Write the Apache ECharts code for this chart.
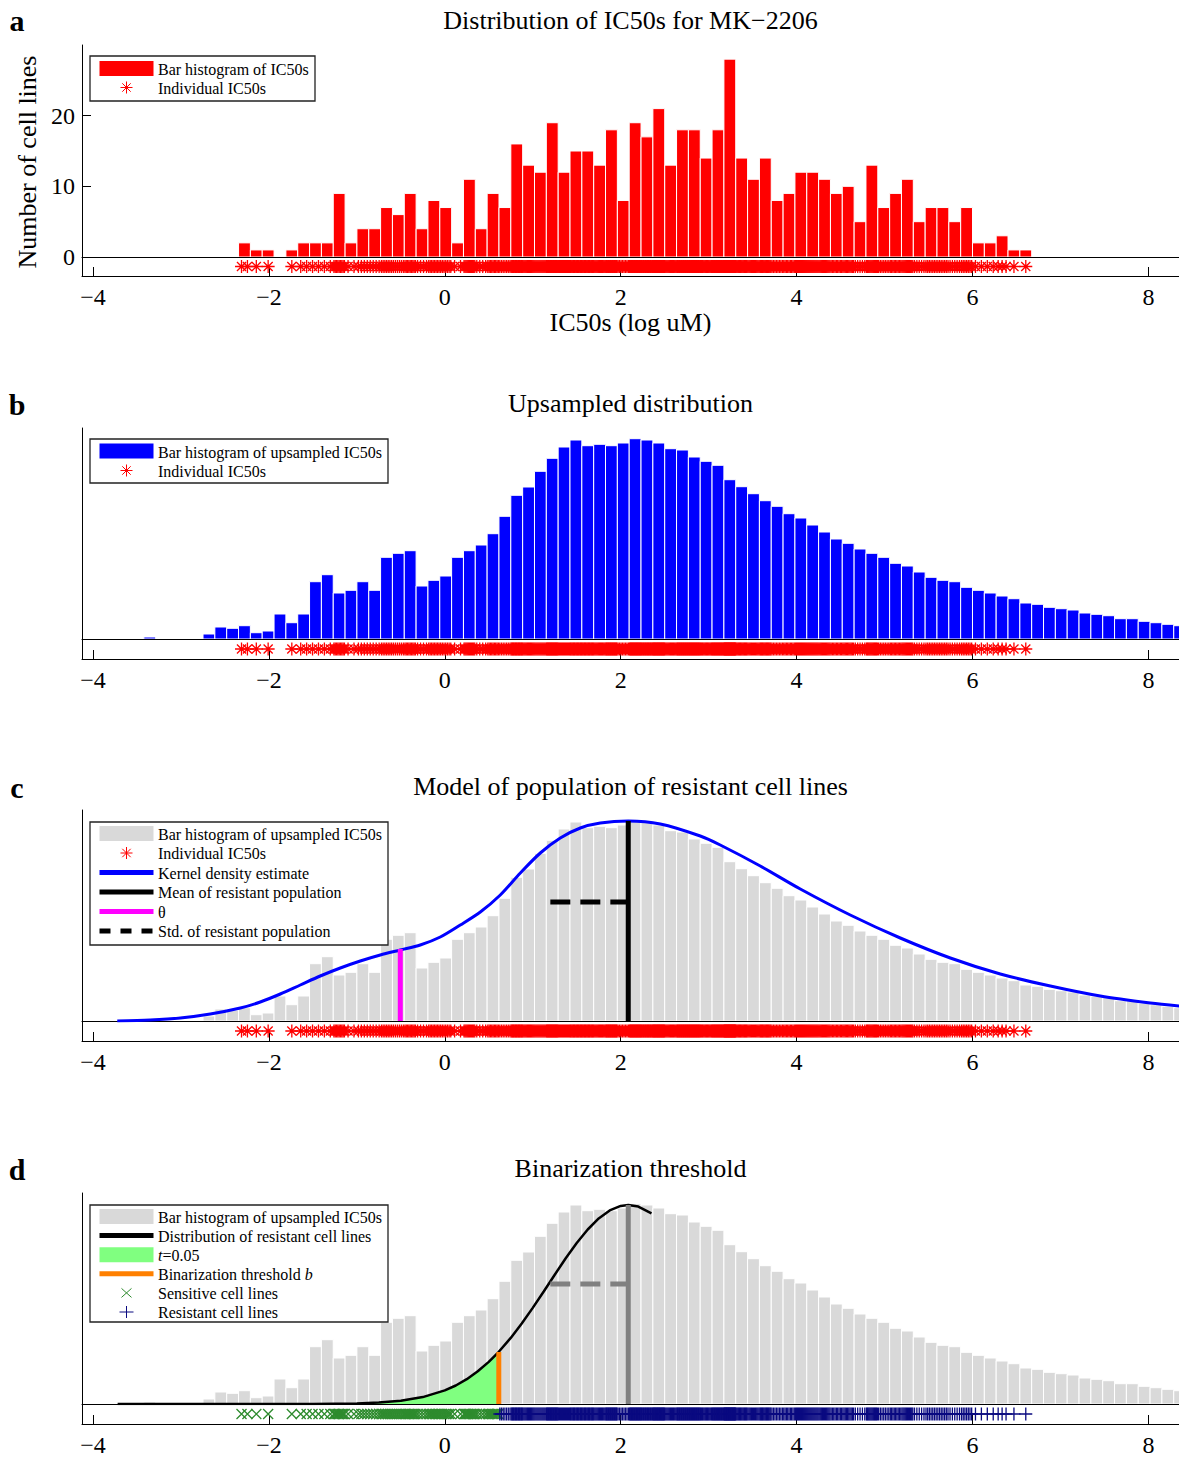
<!DOCTYPE html>
<html><head><meta charset="utf-8">
<script src="https://cdn.jsdelivr.net/npm/echarts@6/dist/echarts.min.js"></script>
<style>html,body{margin:0;padding:0;background:#fff}#c{width:1179px;height:1458px}</style>
</head><body><div id="c"></div>
<script>
// ================= DATA =================
const titles = ['Distribution of IC50s for MK\u22122206', 'Upsampled distribution',
  'Model of population of resistant cell lines', 'Binarization threshold'];
const panelLetters = ['a', 'b', 'c', 'd'];
const xTickValues = [-4, -2, 0, 2, 4, 6, 8];
const aYTickValues = [0, 10, 20];

// histogram bins (log uM)
const binWidth = 0.1346;
const aBinStart = -2.345;
const aCounts = [2,1,1,0,1,2,2,2,9,2,4,4,7,6,9,4,8,7,2,11,4,9,7,16,13,12,19,12,
  15,15,13,18,8,19,17,21,13,18,18,14,18,28,14,11,14,8,9,12,12,11,9,10,5,13,7,9,11,5,7,7,5,7,2,2,3,1,1];

// upsampled histogram (relative counts)
const upBinStart = -3.422;
const upCounts = [2,0,0,0,0,5,12,10.7,13.3,6.3,8,25,16.3,25,57.3,64.3,46,48.7,57.3,48.7,81.7,85.7,88.3,53,58.7,63,
  81.7,88.3,94,105.3,122.7,143.7,152,167.7,180.7,192,199,193.3,194.7,193.3,196,200.3,199,196,190.3,189,182,177.7,
  173.7,159.3,152.3,145.3,138.3,132.7,125.3,121,114,107,100,95.7,90,85.7,81.7,75.7,73,67,61.7,58.7,57.3,51.7,48.7,
  46,43,40.3,36,34.7,31.7,30.3,29,26,24.7,23.3,20.3,20.3,17.7,16.3,14.7,13.3];

// kernel density estimate (panel c)
const kdeX = [-3.724,-3.349,-3.007,-2.666,-2.325,-2.098,-1.870,-1.643,-1.416,-1.188,-0.961,-0.733,-0.506,-0.279,-0.051,
  0.176,0.404,0.631,0.859,1.086,1.313,1.541,1.768,2.086,2.450,2.905,3.132,3.587,4.042,4.610,5.179,5.748,6.316,6.885,7.453,8.022,8.352];
const kdeY = [0,1,3,7,13,19,27,36,45,53,60,66,71,76,84,96,109,126,148,168,183,193,198,200,197,185,176,155,132,106,83,63,47,35,25,18,15];

const resistMean = 2.086;
const resistMeanMinusStd = 1.2;
const cMeanHeight = 200, cStdHeight = 119;
const thetaValue = -0.506, thetaHeight = 72;

// distribution of resistant cell lines (panel d)
const resX = [-3.72,-3.0,-2.5,-2.0,-1.5,-1.0,-0.75,-0.5,-0.25,0,0.125,0.25,0.375,0.5,0.614,0.75,0.875,1.0,1.125,
  1.25,1.375,1.5,1.625,1.75,1.875,2.0,2.086,2.2,2.35];
const resY = [0,0,0,0,0.1,0.6,1.4,3.2,6.9,13.6,18.5,24.8,32.7,42.1,52.2,66.1,80.5,96.1,112.5,
  129.3,145.7,161,174.5,185.6,193.6,198.1,199,197.4,190.6];
const thresholdB = 0.614;
const thresholdHeight = 52;
const dMeanHeight = 199, dStdHeight = 120;

// individual IC50s placed inside their histogram bins
function binPoints(start, w, counts) {
  const pts = [];
  counts.forEach((n, i) => { for (let k = 0; k < n; k++) pts.push(start + w * (i + (k + 0.5) / n)); });
  return pts;
}
const individualIC50 = binPoints(aBinStart, binWidth, aCounts);

// ================= LAYOUT / STYLE =================
const FONT = "'Liberation Serif','Times New Roman',serif";
const XMIN = -4.125, XMAX = 8.348;
const PANELS = [
  {top: 45, base: 257, bottom: 276, titleY: 20, letterY: 20},
  {top: 428, base: 639, bottom: 659, titleY: 403, letterY: 404},
  {top: 810, base: 1021, bottom: 1041, titleY: 786, letterY: 787},
  {top: 1193, base: 1404, bottom: 1424, titleY: 1168, letterY: 1169}
];
const STAR = 'path://M6,0L6,12M0,6L12,6M1.8,1.8L10.2,10.2M1.8,10.2L10.2,1.8';
const XMARK = 'path://M0,0L10,10M0,10L10,0';
const PLUS = 'path://M7,0L7,12M0,6L14,6';
const minus = v => v < 0 ? '\u2212' + Math.abs(v) : String(v);

const grids = [], xAxes = [], yAxes = [];
PANELS.forEach((p, i) => {
  grids.push({left: 82, right: 0, top: p.top, height: p.base - p.top});
  grids.push({left: 82, right: 0, top: p.base, height: p.bottom - p.base});
  xAxes.push({gridIndex: 2 * i, type: 'value', min: XMIN, max: XMAX,
    axisLine: {show: true, onZero: false, lineStyle: {color: '#000', width: 1}},
    axisTick: {show: false}, axisLabel: {show: false}, splitLine: {show: false}});
  const rx = {gridIndex: 2 * i + 1, type: 'value', min: XMIN, max: XMAX,
    axisLine: {show: true, onZero: false, lineStyle: {color: '#000', width: 1}},
    axisTick: {show: true, inside: true, length: 9, customValues: xTickValues, lineStyle: {color: '#000', width: 1}},
    axisLabel: {customValues: xTickValues, formatter: minus, fontFamily: FONT, fontSize: 24, color: '#000', margin: 9},
    splitLine: {show: false}};
  if (i === 0) Object.assign(rx, {name: 'IC50s (log uM)', nameLocation: 'middle', nameGap: 33,
    nameTextStyle: {fontFamily: FONT, fontSize: 26, color: '#000'}});
  xAxes.push(rx);
  if (i === 0) {
    yAxes.push({gridIndex: 0, type: 'value', min: 0, max: 30,
      axisLine: {show: true, onZero: false, lineStyle: {color: '#000', width: 1}},
      axisTick: {show: true, inside: true, length: 9, customValues: aYTickValues, lineStyle: {color: '#000'}},
      axisLabel: {customValues: aYTickValues, fontFamily: FONT, fontSize: 24, color: '#000', margin: 7},
      splitLine: {show: false}});
  } else {
    yAxes.push({gridIndex: 2 * i, type: 'value', min: 0, max: p.base - p.top,
      axisLine: {show: true, onZero: false, lineStyle: {color: '#000', width: 1}},
      axisTick: {show: false}, axisLabel: {show: false}, splitLine: {show: false}});
  }
  yAxes.push({gridIndex: 2 * i + 1, type: 'value', min: 0, max: 1,
    axisLine: {show: true, onZero: false, lineStyle: {color: '#000', width: 1}},
    axisTick: {show: false}, axisLabel: {show: false}, splitLine: {show: false}});
});

function histSeries(name, gi, start, counts, fill) {
  return {type: 'custom', name, xAxisIndex: gi, yAxisIndex: gi, silent: true, clip: true, z: 2,
    data: counts.map((c, i) => [start + i * binWidth, start + (i + 1) * binWidth, c]),
    encode: {x: [0, 1], y: 2},
    renderItem(params, api) {
      const h = api.value(2);
      if (!(h > 0)) return null;
      const p0 = api.coord([api.value(0), 0]);
      const p1 = api.coord([api.value(1), h]);
      return {type: 'rect', shape: {x: p0[0], y: p1[1], width: p1[0] - p0[0], height: p0[1] - p1[1]},
        style: {fill, stroke: '#ffffff', lineWidth: 1}};
    }};
}
function lineSeries(name, gi, xs, ys, color, width, extra) {
  return Object.assign({type: 'line', name, xAxisIndex: gi, yAxisIndex: gi, silent: true, z: 3,
    data: xs.map((x, i) => [x, ys[i]]), symbol: 'none',
    lineStyle: {color, width, cap: 'butt'}, itemStyle: {color}}, extra || {});
}
function rugSeries(name, gi, xs, symbol, size, color, bw) {
  return {type: 'scatter', name, xAxisIndex: gi, yAxisIndex: gi, silent: true, z: 3,
    data: xs.map(x => [x, 0.5]), symbol, symbolSize: size,
    itemStyle: {color: 'rgba(0,0,0,0)', borderColor: color, borderWidth: bw || 1.3, opacity: 1}};
}

const series = [
  histSeries('Bar histogram of IC50s', 0, aBinStart, aCounts, '#FF0000'),
  rugSeries('Individual IC50s', 1, individualIC50, STAR, 13, '#FF0000'),

  histSeries('Bar histogram of upsampled IC50s (b)', 2, upBinStart, upCounts, '#0000FF'),
  rugSeries('Individual IC50s (b)', 3, individualIC50, STAR, 13, '#FF0000'),

  histSeries('Bar histogram of upsampled IC50s (c)', 4, upBinStart, upCounts, '#D9D9D9'),
  lineSeries('Kernel density estimate', 4, kdeX, kdeY, '#0000FF', 3, {smooth: 0.3}),
  lineSeries('Mean of resistant population', 4, [resistMean, resistMean], [0, cMeanHeight], '#000000', 5),
  lineSeries('\u03b8', 4, [thetaValue, thetaValue], [0, thetaHeight], '#FF00FF', 5),
  lineSeries('Std. of resistant population', 4, [resistMeanMinusStd, resistMean], [cStdHeight, cStdHeight], '#000000', 5,
    {lineStyle: {color: '#000', width: 5, type: [20, 10]}}),
  rugSeries('Individual IC50s (c)', 5, individualIC50, STAR, 13, '#FF0000'),

  histSeries('Bar histogram of upsampled IC50s (d)', 6, upBinStart, upCounts, '#D9D9D9'),
  lineSeries('t=0.05', 6, resX.filter(x => x <= thresholdB), resY.filter((y, i) => resX[i] <= thresholdB), '#80FF80', 0,
    {areaStyle: {color: '#80FF80', opacity: 1}}),
  lineSeries('Distribution of resistant cell lines', 6, resX, resY, '#000000', 2.5),
  lineSeries('Binarization threshold b', 6, [thresholdB, thresholdB], [0, thresholdHeight], '#FF8000', 5),
  lineSeries('Mean (d)', 6, [resistMean, resistMean], [0, dMeanHeight], '#808080', 5),
  lineSeries('Std (d)', 6, [resistMeanMinusStd, resistMean], [dStdHeight, dStdHeight], '#808080', 5,
    {lineStyle: {color: '#808080', width: 5, type: [20, 10]}}),
  rugSeries('Sensitive cell lines', 7, individualIC50.filter(x => x < thresholdB), XMARK, 10, '#2E8B2E', 1.3),
  rugSeries('Resistant cell lines', 7, individualIC50.filter(x => x >= thresholdB), PLUS, [13, 13], '#0A0A80', 1.3)
];

// ================= LEGENDS (graphic) =================
const LT = {fontFamily: FONT, fontSize: 16, fill: '#000'};
const G = [];
function box(x, y, w, h) {
  G.push({type: 'rect', z: 100, shape: {x, y, width: w, height: h}, style: {fill: '#fff', stroke: '#222', lineWidth: 1.3}});
}
function iconRect(y, color) { G.push({type: 'rect', z: 101, shape: {x: 99.5, y: y - 7.5, width: 54, height: 15}, style: {fill: color}}); }
function iconLine(y, color, dash) {
  G.push({type: 'line', z: 101, shape: {x1: 99.5, y1: y, x2: 153.5, y2: y},
    style: {stroke: color, lineWidth: 5, lineDash: dash || null}});
}
function seg(x1, y1, x2, y2, color) { G.push({type: 'line', z: 101, shape: {x1, y1, x2, y2}, style: {stroke: color, lineWidth: 1}}); }
function iconStar(y) {
  const c = '#FF0000', cx = 126.5, r = 6, d = 4.2;
  seg(cx, y - r, cx, y + r, c); seg(cx - r, y, cx + r, y, c);
  seg(cx - d, y - d, cx + d, y + d, c); seg(cx - d, y + d, cx + d, y - d, c);
}
function iconX(y) { const c = '#2E8B2E', cx = 126.5; seg(cx - 5, y - 4.5, cx + 5, y + 4.5, c); seg(cx - 5, y + 4.5, cx + 5, y - 4.5, c); }
function iconPlus(y) { const c = '#0A0A80', cx = 126.5; seg(cx, y - 6, cx, y + 6, c); seg(cx - 7, y, cx + 7, y, c); }
function label(y, text, rich) {
  const st = Object.assign({text, x: 0, y: 0, align: 'left', verticalAlign: 'middle'}, LT);
  if (rich) st.rich = rich;
  G.push({type: 'text', z: 102, x: 158, y: y, style: st});
}
const ital = {i: {fontFamily: FONT, fontSize: 16, fontStyle: 'italic', fill: '#000'},
              n: {fontFamily: FONT, fontSize: 16, fill: '#000'}};

// a
box(90, 56, 225, 45);
iconRect(68.5, '#FF0000'); label(69, 'Bar histogram of IC50s');
iconStar(87.5); label(88, 'Individual IC50s');
// b
box(90, 439, 298, 44);
iconRect(451, '#0000FF'); label(452, 'Bar histogram of upsampled IC50s');
iconStar(470.5); label(471, 'Individual IC50s');
// c
box(90, 822, 298, 123);
const cr = [833.5, 853, 872.5, 892, 911.5, 931];
iconRect(cr[0], '#D9D9D9'); label(cr[0] + 0.5, 'Bar histogram of upsampled IC50s');
iconStar(cr[1]); label(cr[1] + 0.5, 'Individual IC50s');
iconLine(cr[2], '#0000FF'); label(cr[2] + 0.5, 'Kernel density estimate');
iconLine(cr[3], '#000000'); label(cr[3] + 0.5, 'Mean of resistant population');
iconLine(cr[4], '#FF00FF'); label(cr[4] + 0.5, '\u03b8');
iconLine(cr[5], '#000000', [11, 10]); label(cr[5] + 0.5, 'Std. of resistant population');
// d
box(90, 1205, 298, 117);
const dr = [1216.5, 1235.6, 1254.7, 1273.8, 1292.9, 1312];
iconRect(dr[0], '#D9D9D9'); label(dr[0] + 0.5, 'Bar histogram of upsampled IC50s');
iconLine(dr[1], '#000000'); label(dr[1] + 0.5, 'Distribution of resistant cell lines');
iconRect(dr[2], '#80FF80'); label(dr[2] + 0.5, '{i|t}{n|=0.05}', ital);
iconLine(dr[3], '#FF8000'); label(dr[3] + 0.5, '{n|Binarization threshold }{i|b}', ital);
iconX(dr[4]); label(dr[4] + 0.5, 'Sensitive cell lines');
iconPlus(dr[5]); label(dr[5] + 0.5, 'Resistant cell lines');

// panel letters and y-axis label
PANELS.forEach((p, i) => {
  G.push({type: 'text', z: 102, x: 17, y: p.letterY,
    style: {text: panelLetters[i], align: 'center', verticalAlign: 'middle', fontFamily: FONT, fontSize: 30, fontWeight: 'bold', fill: '#000'}});
});
G.push({type: 'text', z: 102, x: 27, y: 162, rotation: Math.PI / 2,
  style: {text: 'Number of cell lines', align: 'center', verticalAlign: 'middle', fontFamily: FONT, fontSize: 26, fill: '#000'}});

const chart = echarts.init(document.getElementById('c'), null, {renderer: 'svg'});
chart.setOption({
  backgroundColor: '#ffffff',
  animation: false,
  title: titles.map((t, i) => ({text: t, left: 630.5, top: PANELS[i].titleY, textAlign: 'center',
    textVerticalAlign: 'middle', padding: 0,
    textStyle: {fontFamily: FONT, fontSize: 26, fontWeight: 'normal', color: '#000'}})),
  grid: grids, xAxis: xAxes, yAxis: yAxes, series,
  graphic: G
});
</script></body></html>
